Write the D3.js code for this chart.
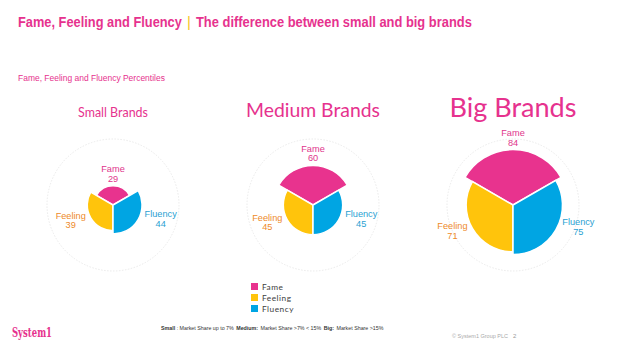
<!DOCTYPE html>
<html lang="en">
<head>
<meta charset="UTF-8" />
<title>Fame, Feeling and Fluency</title>
<script src="https://cdn.jsdelivr.net/npm/d3@7/dist/d3.min.js"></script>
<style>
  body { margin: 0; background: #fff; }
  svg { display: block; }
</style>
</head>
<body>
<svg id="chart" width="624" height="351"></svg>
<script>
// data
const groups = ["Small Brands", "Medium Brands", "Big Brands"];
const metrics = ["Fame", "Feeling", "Fluency"];
const fame = [29, 60, 84];
const feeling = [39, 45, 71];
const fluency = [44, 45, 75];

const pink = "#e6328e";
const sectorColor = { Fame: "#e8338e", Feeling: "#ffc40c", Fluency: "#00a5e3" };
const labelColor = { Fame: "#e0358c", Feeling: "#ee8a2a", Fluency: "#2a9fd2" };
// where each wedge sits (0 = top, clockwise)
const angles = { Fame: [-Math.PI / 3, Math.PI / 3], Fluency: [Math.PI / 3, Math.PI], Feeling: [Math.PI, 5 * Math.PI / 3] };

const svg = d3.select("#chart");
const sans = "Liberation Sans, Arial, sans-serif";

// draw a text and resize its font so it spans roughly w pixels
function fitText(x, y, w, txt, opts) {
    const el = svg.append("text")
        .attr("x", x).attr("y", y)
        .attr("text-anchor", opts.anchor || "start")
        .attr("font-family", opts.family || sans)
        .attr("font-weight", opts.weight || "normal")
        .attr("font-size", opts.size)
        .attr("fill", opts.fill)
        .text(txt);
    const len = el.node().getComputedTextLength();
    if (len > 0) el.attr("font-size", opts.size * w / len);
    return el;
}

// same idea but squeeze horizontally, keeping the height (narrow font look)
function squeezeText(x, y, w, txt, opts) {
    const g = svg.append("g").attr("transform", `translate(${x},${y})`);
    const el = g.append("text")
        .attr("font-family", opts.family || sans)
        .attr("font-weight", opts.weight || "normal")
        .attr("font-size", opts.size)
        .attr("fill", opts.fill)
        .text(txt);
    const len = el.node().getComputedTextLength();
    if (len > 0) g.attr("transform", `translate(${x},${y}) scale(${w / len},1)`);
    return el;
}

// title
squeezeText(18, 27, 164, "Fame, Feeling and Fluency", { size: 15.5, weight: "bold", fill: pink });
svg.append("text").attr("x", 189).attr("y", 27).attr("text-anchor", "middle")
    .attr("font-family", sans).attr("font-size", 15).attr("fill", "#f7c52a").text("|");
squeezeText(196, 27, 276, "The difference between small and big brands", { size: 15.5, weight: "bold", fill: pink });

squeezeText(18, 81, 147, "Fame, Feeling and Fluency Percentiles", { size: 9, fill: pink });

// one polar chart per brand size
const cx = d3.scalePoint().domain(groups).range([113, 513]);
const cy = 205;
const r = d3.scaleLinear().domain([0, 100]).range([0, 66]);
const headWidth = [70, 134, 127];

const table = groups.map((g, i) => ({
    group: g,
    values: [
        { key: "Fame", value: fame[i] },
        { key: "Feeling", value: feeling[i] },
        { key: "Fluency", value: fluency[i] }
    ]
}));

const arc = d3.arc()
    .innerRadius(0)
    .outerRadius(d => r(d.value))
    .startAngle(d => angles[d.key][0])
    .endAngle(d => angles[d.key][1]);

table.forEach((t, i) => {
    const g = svg.append("g").attr("transform", `translate(${cx(t.group)},${cy})`);

    fitText(cx(t.group), 117, headWidth[i], t.group,
        { size: 20, fill: pink, anchor: "middle", family: "Lato, Carlito, sans-serif" });

    g.append("circle")
        .attr("r", r(100))
        .attr("fill", "none")
        .attr("stroke", "#e4e4e4")
        .attr("stroke-width", 0.8)
        .attr("stroke-dasharray", "1.5,1.5");

    g.selectAll("path")
        .data(t.values)
        .join("path")
        .attr("d", arc)
        .attr("fill", d => sectorColor[d.key])
        .attr("stroke", "#fff")
        .attr("stroke-width", 1.5);

    t.values.forEach(d => {
        const rr = r(d.value);
        let x, y;
        if (d.key === "Fame") { x = 0; y = -rr - 13.5; }
        else if (d.key === "Fluency") { x = rr * Math.sin(2 * Math.PI / 3) + 22.5; y = rr * 0.4 + 0.5; }
        else { x = rr * Math.sin(4 * Math.PI / 3) - 20; y = rr * 0.5 + 1; }
        const lab = g.append("text")
            .attr("text-anchor", "middle")
            .attr("font-family", sans)
            .attr("font-size", 9.2)
            .attr("fill", labelColor[d.key]);
        lab.append("tspan").attr("x", x).attr("y", y).text(d.key);
        lab.append("tspan").attr("x", x).attr("y", y + 9.5).text(d.value);
    });
});

// legend
const legend = svg.append("g").attr("transform", "translate(251,283)");
metrics.forEach((m, i) => {
    legend.append("rect")
        .attr("x", 0).attr("y", i * 11)
        .attr("width", 7).attr("height", 7)
        .attr("fill", sectorColor[m]);
    legend.append("text")
        .attr("x", 11).attr("y", i * 11 + 6.5)
        .attr("font-family", "Lato, Carlito, sans-serif")
        .attr("font-size", 8.3)
        .attr("letter-spacing", 0.5)
        .attr("fill", "#404040")
        .text(m);
});

// footnote, laid out piece by piece
const notes = [
    ["Small", true], [": Market Share up to 7%", false],
    ["Medium:", true], ["Market Share >7% < 15%", false],
    ["Big:", true], ["Market Share >15%", false]
];
let nx = 161;
notes.forEach(([txt, bold], k) => {
    const el = svg.append("text")
        .attr("x", nx).attr("y", 330)
        .attr("font-family", sans)
        .attr("font-size", 5.3)
        .attr("font-weight", bold ? "bold" : "normal")
        .attr("fill", "#333")
        .text(txt);
    nx += el.node().getComputedTextLength() + (k === 0 ? 1.5 : 2.5);
});

svg.append("text")
    .attr("x", 12).attr("y", 337)
    .attr("font-family", "DejaVu Serif, serif")
    .attr("font-weight", "bold").attr("font-size", 12)
    .attr("textLength", 40).attr("lengthAdjust", "spacingAndGlyphs")
    .attr("fill", pink)
    .text("System1");

svg.append("text")
    .attr("x", 452).attr("y", 338)
    .attr("font-family", sans)
    .attr("font-size", 5.5)
    .attr("fill", "#aaa")
    .text("© System1 Group PLC");
svg.append("text")
    .attr("x", 513).attr("y", 338)
    .attr("font-family", sans)
    .attr("font-size", 6)
    .attr("fill", "#999")
    .text("2");
</script>
</body>
</html>
